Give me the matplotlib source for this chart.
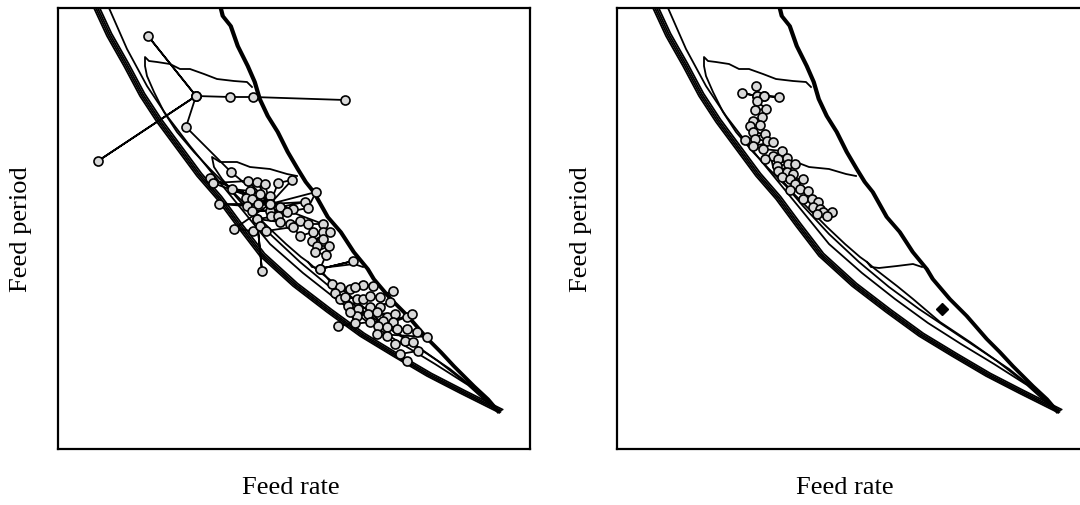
import matplotlib
matplotlib.use("Agg")
import matplotlib.pyplot as plt
from matplotlib.transforms import offset_copy

# ---------------- data (arbitrary units: feed rate 0..472, feed period 0..441) -------------
# contour lines of the response surface (shared by both panels)
bundle_x = [36, 49, 66, 82, 99, 119, 139, 159, 179, 202, 235, 269, 302, 335, 369, 402, 422, 440]
bundle_y = [441, 413, 383, 353, 327, 300, 273, 250, 223, 193, 163, 137, 113, 93, 73, 56, 46, 37]

inner_x = [51, 69, 89, 109, 132, 159, 186, 212, 245, 278, 311, 344, 377, 410, 440]
inner_y = [441, 400, 363, 333, 303, 270, 237, 205, 176, 150, 126, 105, 85, 64, 37]

reg1_x = [194, 189, 176, 159, 146, 132, 122, 112, 99, 91, 87, 87, 89, 96, 106, 119, 136,
          152, 169, 186, 212, 242, 272, 302, 332, 362, 392, 417, 437]
reg1_y = [362, 367, 368, 370, 375, 380, 380, 385, 387, 388, 392, 383, 373, 357, 337, 317,
          297, 280, 263, 243, 215, 187, 162, 140, 120, 100, 80, 60, 42]

reg2_x = [239, 229, 212, 192, 179, 162, 154, 156, 164, 177, 192, 210, 228, 243, 250, 254,
          262, 280, 296, 305]
reg2_y = [273, 275, 280, 282, 287, 287, 292, 282, 270, 255, 240, 222, 205, 192, 187, 182,
          181, 183, 185, 182]

reg3_x = [250, 258, 280, 296, 323, 353, 380, 403, 420, 437]
reg3_y = [187, 180, 163, 150, 127, 107, 88, 70, 57, 42]

ridge_x = [162, 164, 172, 179, 189, 196, 201, 209, 219, 229, 239, 247, 255, 269, 282, 295,
           309, 315, 332, 349, 369, 382, 395, 415, 429, 440]
ridge_y = [441, 433, 423, 403, 383, 367, 350, 333, 317, 297, 280, 267, 257, 232, 217, 197,
           180, 170, 150, 133, 110, 97, 83, 63, 50, 37]

# left panel: search trajectory
left_x = [287, 195, 172, 138, 90, 138, 40, 138, 128, 173, 212, 152, 212, 155, 190, 212, 199,
          207, 212, 220, 234, 212, 174, 192, 202, 212, 188, 194, 212, 161, 189, 200, 222,
          247, 212, 235, 194, 212, 229, 250, 258, 212, 213, 220, 199, 204, 199, 222, 232,
          242, 250, 265, 212, 176, 195, 202, 208, 235, 242, 255, 265, 272, 254, 265, 259,
          271, 257, 268, 262, 295, 262, 274, 282, 292, 305, 315, 297, 277, 282, 287, 299,
          305, 312, 322, 335, 290, 300, 312, 322, 332, 299, 310, 319, 329, 337, 292, 297,
          280, 312, 325, 335, 349, 354, 320, 329, 339, 349, 359, 369, 319, 329, 337, 347,
          355, 360, 342, 349]
left_y = [349, 352, 352, 353, 413, 353, 288, 353, 322, 277, 245, 271, 245, 266, 268, 245, 267,
          265, 245, 266, 269, 245, 260, 258, 255, 253, 251, 250, 245, 245, 243, 245, 242,
          247, 245, 240, 238, 238, 237, 241, 257, 245, 233, 233, 230, 178, 230, 227, 225,
          228, 225, 225, 245, 220, 218, 223, 218, 222, 213, 217, 217, 217, 208, 210, 203,
          203, 197, 194, 180, 188, 180, 165, 162, 160, 164, 163, 162, 156, 150, 152, 150,
          150, 153, 152, 158, 143, 140, 142, 142, 147, 133, 135, 137, 132, 135, 137, 126,
          123, 127, 128, 127, 132, 135, 123, 122, 120, 120, 117, 112, 115, 113, 105, 108,
          107, 98, 95, 88]

# right panel: search trajectory
right_x = [139, 140, 125, 140, 147, 162, 147, 140, 149, 138, 145, 136, 133, 143, 136, 148,
           128, 138, 150, 156, 136, 146, 165, 156, 148, 161, 170, 160, 171, 178, 161, 170,
           176, 165, 173, 186, 178, 173, 183, 191, 186, 195, 201, 196, 203, 206, 215, 200, 210]
right_y = [363, 353, 356, 353, 353, 352, 353, 348, 340, 339, 332, 328, 323, 324, 317, 315,
           309, 310, 308, 307, 303, 300, 298, 293, 290, 290, 291, 283, 285, 285, 278, 277,
           275, 272, 270, 270, 265, 259, 260, 258, 250, 250, 247, 242, 240, 237, 237, 235, 233]

optimum_x = [325]
optimum_y = [140]

# ---------------- figure ----------------
W, H = 1080, 506
fig = plt.figure(figsize=(W / 100, H / 100), dpi=100)
fig.patch.set_facecolor("white")

axw, axh = 472 / W, 441 / H
axb = (H - 450) / H
axL = fig.add_axes([58 / W, axb, axw, axh])
axR = fig.add_axes([617 / W, axb, axw, axh])


def draw_contours(ax):
    # bundle of nearly coincident outer contours
    for dx, dy in [(0, 0), (1.5, 0.8), (3, 1.5), (4.5, 2.5)]:
        tr = offset_copy(ax.transData, fig=fig, x=dx, y=dy, units="dots")
        ax.plot(bundle_x, bundle_y, color="black", lw=1.3, transform=tr)
    ax.plot(inner_x, inner_y, color="black", lw=1.3)
    ax.plot(reg1_x, reg1_y, color="black", lw=1.3)
    ax.plot(reg2_x, reg2_y, color="black", lw=1.3)
    ax.plot(reg3_x, reg3_y, color="black", lw=1.3)
    for dx in (0, 1.5):
        tr = offset_copy(ax.transData, fig=fig, x=dx, y=0, units="dots")
        ax.plot(ridge_x, ridge_y, color="black", lw=2.0, transform=tr)


for ax in (axL, axR):
    draw_contours(ax)
    ax.set_xlim(0, 472)
    ax.set_ylim(0, 441)
    ax.set_xticks([])
    ax.set_yticks([])
    for s in ax.spines.values():
        s.set_linewidth(1.6)
        s.set_color("black")

mk = dict(marker="o", ms=6.5, mfc="#d9d9d9", mec="black", mew=1.2, color="black", lw=1.3)
axL.plot(left_x, left_y, **mk)
axR.plot(right_x, right_y, **mk)
axR.plot(optimum_x, optimum_y, marker="D", ms=6, color="black", ls="none")

font = dict(family="Liberation Serif", size=19)
fig.text(291 / W, 1 - 488 / H, "Feed rate", ha="center", va="center", **font)
fig.text(845 / W, 1 - 488 / H, "Feed rate", ha="center", va="center", **font)
fig.text(21 / W, 1 - 229 / H, "Feed period", ha="center", va="center", rotation=90, **font)
fig.text(581 / W, 1 - 229 / H, "Feed period", ha="center", va="center", rotation=90, **font)

fig.savefig("out.png", dpi=100)
